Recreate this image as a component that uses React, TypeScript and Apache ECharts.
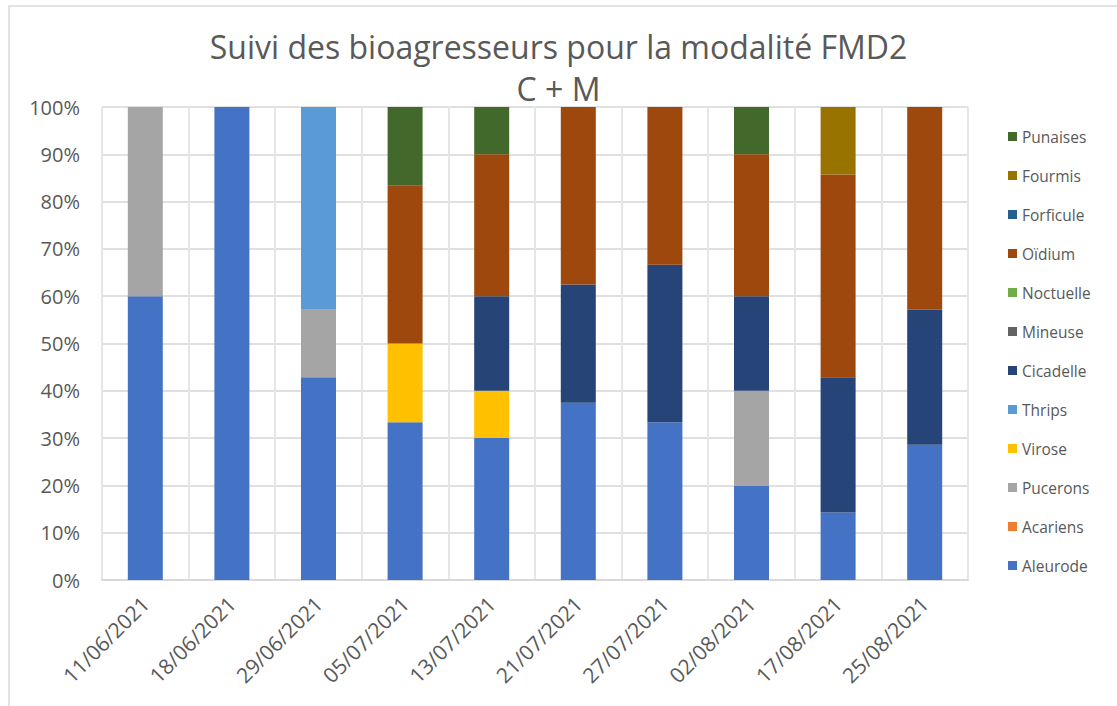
import React, { useEffect, useRef } from "react";
import * as echarts from "echarts";

const dates = ["11/06/2021", "18/06/2021", "29/06/2021", "05/07/2021", "13/07/2021", "21/07/2021", "27/07/2021", "02/08/2021", "17/08/2021", "25/08/2021"];

const aleurode = [60, 100, 42.86, 33.33, 30, 37.5, 33.33, 20, 14.29, 28.57];
const acariens = [0, 0, 0, 0, 0, 0, 0, 0, 0, 0];
const pucerons = [40, 0, 14.29, 0, 0, 0, 0, 20, 0, 0];
const virose = [0, 0, 0, 16.67, 10, 0, 0, 0, 0, 0];
const thrips = [0, 0, 42.86, 0, 0, 0, 0, 0, 0, 0];
const cicadelle = [0, 0, 0, 0, 20, 25, 33.33, 20, 28.57, 28.57];
const mineuse = [0, 0, 0, 0, 0, 0, 0, 0, 0, 0];
const noctuelle = [0, 0, 0, 0, 0, 0, 0, 0, 0, 0];
const oidium = [0, 0, 0, 33.33, 30, 37.5, 33.33, 30, 42.86, 42.86];
const forficule = [0, 0, 0, 0, 0, 0, 0, 0, 0, 0];
const fourmis = [0, 0, 0, 0, 0, 0, 0, 0, 14.29, 0];
const punaises = [0, 0, 0, 16.67, 10, 0, 0, 10, 0, 0];

const seriesDefs = [
  { name: "Aleurode", data: aleurode, color: "#4472C4" },
  { name: "Acariens", data: acariens, color: "#ED7D31" },
  { name: "Pucerons", data: pucerons, color: "#A5A5A5" },
  { name: "Virose", data: virose, color: "#FFC000" },
  { name: "Thrips", data: thrips, color: "#5B9BD5" },
  { name: "Cicadelle", data: cicadelle, color: "#264478" },
  { name: "Mineuse", data: mineuse, color: "#636363" },
  { name: "Noctuelle", data: noctuelle, color: "#70AD47" },
  { name: "Oïdium", data: oidium, color: "#9E480E" },
  { name: "Forficule", data: forficule, color: "#255E91" },
  { name: "Fourmis", data: fourmis, color: "#997300" },
  { name: "Punaises", data: punaises, color: "#43682B" },
];

const FONT = "'Open Sans', 'Noto Sans', sans-serif";

export default function App() {
  const ref = useRef<HTMLDivElement>(null);
  useEffect(() => {
    if (!ref.current) return;
    const chart = echarts.init(ref.current, null, { renderer: "svg" });
    chart.setOption({
      animation: false,
      backgroundColor: "#ffffff",
      textStyle: { fontFamily: FONT },
      title: {
        text: "Suivi des bioagresseurs pour la modalité FMD2\nC + M",
        left: "center",
        top: 20,
        textStyle: {
          fontFamily: FONT,
          fontSize: 32,
          fontWeight: "normal",
          color: "#595959",
          lineHeight: 42,
        },
      },
      legend: {
        orient: "vertical",
        left: 1003,
        top: 123,
        itemWidth: 9,
        itemHeight: 9,
        itemGap: 22,
        icon: "rect",
        data: seriesDefs.map((s) => s.name).reverse(),
        textStyle: { fontFamily: FONT, fontSize: 15.5, color: "#595959", lineHeight: 17 },
      },
      grid: { left: 102, right: 149, top: 107, bottom: 126, containLabel: false },
      xAxis: {
        type: "category",
        data: dates,
        axisLine: { lineStyle: { color: "#D9D9D9", width: 2 } },
        axisTick: { show: false },
        splitLine: { show: true, lineStyle: { color: "#E6E6E6", width: 2 } },
        axisLabel: { rotate: 45, fontFamily: FONT, fontSize: 21, color: "#595959", margin: 20, interval: 0 },
      },
      yAxis: {
        type: "value",
        min: 0,
        max: 100,
        interval: 10,
        axisLine: { show: false },
        axisTick: { show: false },
        splitLine: { lineStyle: { color: "#E0E0E0", width: 2 } },
        axisLabel: { formatter: "{value}%", fontFamily: FONT, fontSize: 20, color: "#595959", margin: 22 },
      },
      graphic: [
        {
          type: "rect",
          shape: { x: 9, y: 6, width: 1300, height: 900 },
          style: { fill: "none", stroke: "#D9D9D9", lineWidth: 1.5 },
          silent: true,
        },
      ],
      series: seriesDefs.map((s) => ({
        name: s.name,
        type: "bar",
        stack: "total",
        barWidth: 35,
        data: s.data,
        itemStyle: { color: s.color },
        emphasis: { disabled: true },
      })),
    });
    return () => chart.dispose();
  }, []);
  return <div ref={ref} style={{ position: "fixed", left: 0, top: 0, width: 1117, height: 706 }} />;
}
